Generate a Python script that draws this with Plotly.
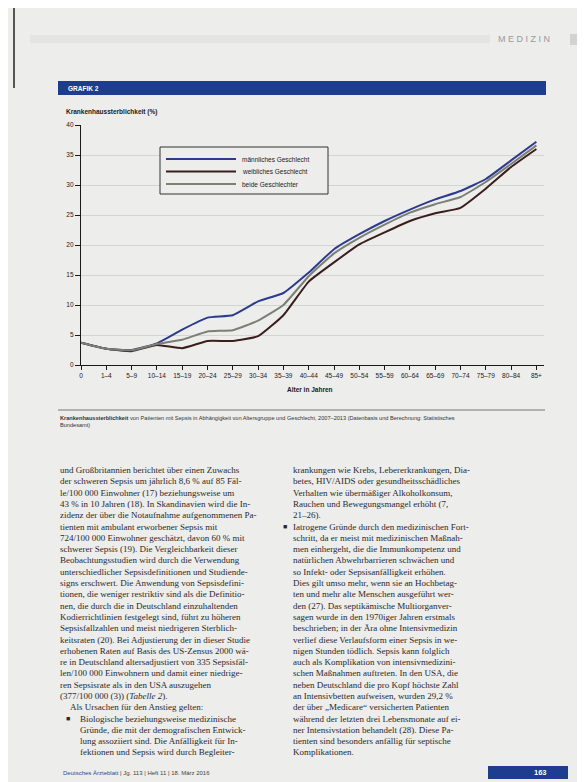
import plotly.graph_objects as go

# ---------------- data ----------------
age_groups = ["0", "1–4", "5–9", "10–14", "15–19", "20–24", "25–29", "30–34", "35–39",
              "40–44", "45–49", "50–54", "55–59", "60–64", "65–69", "70–74", "75–79",
              "80–84", "85+"]
male = [3.7, 2.7, 2.5, 3.6, 5.9, 7.9, 8.3, 10.6, 12.0, 15.4, 19.3, 21.8, 24.0, 25.9, 27.6, 29.0, 31.0, 34.1, 37.2]
female = [3.7, 2.7, 2.3, 3.35, 2.8, 4.0, 4.0, 4.8, 8.3, 13.9, 17.1, 20.1, 22.1, 24.0, 25.3, 26.2, 29.4, 33.0, 36.0]
both = [3.7, 2.7, 2.45, 3.5, 4.2, 5.6, 5.8, 7.4, 10.0, 14.8, 18.6, 21.2, 23.4, 25.4, 26.8, 28.0, 30.5, 33.5, 36.6]
series_names = ["männliches Geschlecht", "weibliches Geschlecht", "beide Geschlechter"]
y_ticks = [0, 5, 10, 15, 20, 25, 30, 35, 40]

left_col = [
    "und Großbritannien berichtet über einen Zuwachs",
    "der schweren Sepsis um jährlich 8,6 % auf 85 Fäl-",
    "le/100 000 Einwohner (17) beziehungsweise um",
    "43 % in 10 Jahren (18). In Skandinavien wird die In-",
    "zidenz der über die Notaufnahme aufgenommenen Pa-",
    "tienten mit ambulant erworbener Sepsis mit",
    "724/100 000 Einwohner geschätzt, davon 60 % mit",
    "schwerer Sepsis (19). Die Vergleichbarkeit dieser",
    "Beobachtungsstudien wird durch die Verwendung",
    "unterschiedlicher Sepsisdefinitionen und Studiende-",
    "signs erschwert. Die Anwendung von Sepsisdefini-",
    "tionen, die weniger restriktiv sind als die Definitio-",
    "nen, die durch die in Deutschland einzuhaltenden",
    "Kodierrichtlinien festgelegt sind, führt zu höheren",
    "Sepsisfallzahlen und meist niedrigeren Sterblich-",
    "keitsraten (20). Bei Adjustierung der in dieser Studie",
    "erhobenen Raten auf Basis des US-Zensus 2000 wä-",
    "re in Deutschland altersadjustiert von 335 Sepsisfäl-",
    "len/100 000 Einwohnern und damit einer niedrige-",
    "ren Sepsisrate als in den USA auszugehen",
    "(377/100 000 (3)) (<i>Tabelle 2</i>).",
    "Als Ursachen für den Anstieg gelten:",
    "Biologische beziehungsweise medizinische",
    "Gründe, die mit der demografischen Entwick-",
    "lung assoziiert sind. Die Anfälligkeit für In-",
    "fektionen und Sepsis wird durch Begleiter-",
]
right_col = [
    "krankungen wie Krebs, Lebererkrankungen, Dia-",
    "betes, HIV/AIDS oder gesundheitsschädliches",
    "Verhalten wie übermäßiger Alkoholkonsum,",
    "Rauchen und Bewegungsmangel erhöht (7,",
    "21–26).",
    "Iatrogene Gründe durch den medizinischen Fort-",
    "schritt, da er meist mit medizinischen Maßnah-",
    "men einhergeht, die die Immunkompetenz und",
    "natürlichen Abwehrbarrieren schwächen und",
    "so Infekt- oder Sepsisanfälligkeit erhöhen.",
    "Dies gilt umso mehr, wenn sie an Hochbetag-",
    "ten und mehr alte Menschen ausgeführt wer-",
    "den (27). Das septikämische Multiorganver-",
    "sagen wurde in den 1970iger Jahren erstmals",
    "beschrieben; in der Ära ohne Intensivmedizin",
    "verlief diese Verlaufsform einer Sepsis in we-",
    "nigen Stunden tödlich. Sepsis kann folglich",
    "auch als Komplikation von intensivmedizini-",
    "schen Maßnahmen auftreten. In den USA, die",
    "neben Deutschland die pro Kopf höchste Zahl",
    "an Intensivbetten aufweisen, wurden 29,2 %",
    "der über „Medicare“ versicherten Patienten",
    "während der letzten drei Lebensmonate auf ei-",
    "ner Intensivstation behandelt (28). Diese Pa-",
    "tienten sind besonders anfällig für septische",
    "Komplikationen.",
]

# ---------------- layout geometry ----------------
W, H = 585, 782
ML, MR, MT, MB = 73, 49, 117, 425
PW, PH = W - ML - MR, H - MT - MB


def px(x):
    return (x - ML) / PW


def py(y):
    return (H - MB - y) / PH


BG = "#ededec"
colors = ["#2c3b8e", "#3a1e1c", "#7b7f74"]
SANS = "Liberation Sans, Arial, sans-serif"
SERIF = "Liberation Serif, Times New Roman, serif"

fig = go.Figure()
for name, vals, col in zip(series_names, [male, female, both], colors):
    fig.add_trace(go.Scatter(
        x=age_groups, y=vals, mode="lines", name=name,
        line=dict(color=col, width=2, shape="spline", smoothing=0.4),
        showlegend=False, hoverinfo="skip"))

shapes = []
annotations = []

# page decoration
shapes.append(dict(type="rect", xref="paper", yref="paper", x0=px(22), x1=px(482), y0=py(27), y1=py(35),
                   fillcolor="#e4e4e3", line=dict(width=0), layer="below"))
shapes.append(dict(type="rect", xref="paper", yref="paper", x0=px(562), x1=px(585), y0=py(26), y1=py(37),
                   fillcolor="#d2d2d2", line=dict(width=0), layer="below"))
shapes.append(dict(type="line", xref="paper", yref="paper", x0=px(6), x1=px(6), y0=py(0), y1=py(80),
                   line=dict(color="#555555", width=2)))
annotations.append(dict(text="M E D I Z I N", x=px(488), y=py(31), xref="paper", yref="paper",
                        xanchor="left", yanchor="middle", showarrow=False,
                        font=dict(family=SANS, size=9, color="#9a9a9a")))

# banner
shapes.append(dict(type="rect", xref="paper", yref="paper", x0=px(50), x1=px(538), y0=py(73), y1=py(87),
                   fillcolor="#1f3d8f", line=dict(width=0)))
annotations.append(dict(text="<b>GRAFIK 2</b>", x=px(58), y=py(80), xref="paper", yref="paper",
                        xanchor="left", yanchor="middle", showarrow=False,
                        font=dict(family=SANS, size=6.5, color="white")))

# y axis title
annotations.append(dict(text="<b>Krankenhaussterblichkeit (%)</b>", x=px(56), y=py(104), xref="paper", yref="paper",
                        xanchor="left", yanchor="middle", showarrow=False,
                        font=dict(family=SANS, size=6.5, color="#1a1a1a")))
# x axis title
annotations.append(dict(text="<b>Alter in Jahren</b>", x=px(302), y=py(381), xref="paper", yref="paper",
                        xanchor="center", yanchor="middle", showarrow=False,
                        font=dict(family=SANS, size=6.5, color="#1a1a1a")))

# custom legend
shapes.append(dict(type="rect", xref="paper", yref="paper", x0=px(152), x1=px(320), y0=py(139), y1=py(186),
                   fillcolor=BG, line=dict(color="#333333", width=1)))
for i, (name, col) in enumerate(zip(series_names, colors)):
    yy = 151 + i * 12.5
    shapes.append(dict(type="line", xref="paper", yref="paper", x0=px(158), x1=px(228), y0=py(yy), y1=py(yy),
                       line=dict(color=col, width=2)))
    annotations.append(dict(text=name, x=px(232), y=py(yy), xref="paper", yref="paper",
                            xanchor="left", yanchor="middle", showarrow=False,
                            font=dict(family=SANS, size=6.5, color="#222222")))

# caption
shapes.append(dict(type="line", xref="paper", yref="paper", x0=px(50), x1=px(537), y0=py(402), y1=py(402),
                   line=dict(color="#777777", width=1)))
annotations.append(dict(
    text="<b>Krankenhaussterblichkeit</b> von Patienten mit Sepsis in Abhängigkeit von Altersgruppe und Geschlecht, 2007–2013 (Datenbasis und Berechnung: Statistisches",
    x=px(50), y=py(410), xref="paper", yref="paper", xanchor="left", yanchor="middle", showarrow=False,
    font=dict(family=SANS, size=5.6, color="#333333")))
annotations.append(dict(text="Bundesamt)", x=px(50), y=py(417), xref="paper", yref="paper",
                        xanchor="left", yanchor="middle", showarrow=False,
                        font=dict(family=SANS, size=5.6, color="#333333")))

# body text
LS = 11.3
for i, line in enumerate(left_col):
    x0 = 50
    if i == 21:
        x0 = 60
    if i >= 22:
        x0 = 70
    annotations.append(dict(text=line, x=px(x0), y=py(462 + i * LS), xref="paper", yref="paper",
                            xanchor="left", yanchor="middle", showarrow=False,
                            font=dict(family=SERIF, size=9, color="#2a2a2a")))
annotations.append(dict(text="■", x=px(56), y=py(462 + 22 * LS), xref="paper", yref="paper",
                        xanchor="left", yanchor="middle", showarrow=False,
                        font=dict(family=SANS, size=7, color="#2a2a2a")))
for i, line in enumerate(right_col):
    x0 = 283
    annotations.append(dict(text=line, x=px(x0), y=py(462 + i * LS), xref="paper", yref="paper",
                            xanchor="left", yanchor="middle", showarrow=False,
                            font=dict(family=SERIF, size=9, color="#2a2a2a")))
annotations.append(dict(text="■", x=px(273), y=py(462 + 5 * LS), xref="paper", yref="paper",
                        xanchor="left", yanchor="middle", showarrow=False,
                        font=dict(family=SANS, size=7, color="#2a2a2a")))

# footer
annotations.append(dict(
    text="<span style='color:#2b4a9a'>Deutsches Ärzteblatt</span> | Jg. 113 | Heft 11 | 18. März 2016",
    x=px(53), y=py(765), xref="paper", yref="paper", xanchor="left", yanchor="middle", showarrow=False,
    font=dict(family=SANS, size=6, color="#444444")))
shapes.append(dict(type="rect", xref="paper", yref="paper", x0=px(480), x1=px(560), y0=py(758), y1=py(771),
                   fillcolor="#1f3d8f", line=dict(width=0)))
annotations.append(dict(text="<b>163</b>", x=px(532), y=py(764.5), xref="paper", yref="paper",
                        xanchor="center", yanchor="middle", showarrow=False,
                        font=dict(family=SANS, size=7.5, color="white")))

fig.update_layout(
    width=W, height=H,
    margin=dict(l=ML, r=MR, t=MT, b=MB, pad=0),
    paper_bgcolor=BG, plot_bgcolor=BG,
    shapes=shapes, annotations=annotations,
    showlegend=False,
    xaxis=dict(type="category", range=[0, 18.3], showline=True, linecolor="#1a1a1a", linewidth=1.2,
               ticks="outside", ticklen=4, tickcolor="#1a1a1a", showgrid=False, zeroline=False,
               tickfont=dict(family=SANS, size=6.5, color="#222222"), tickangle=0, fixedrange=True),
    yaxis=dict(range=[0, 40], tickvals=y_ticks, showline=True, linecolor="#1a1a1a", linewidth=1.2,
               ticks="outside", ticklen=5, tickcolor="#1a1a1a", showgrid=True, gridcolor="#d4d4d2",
               gridwidth=1, zeroline=False,
               tickfont=dict(family=SANS, size=6.5, color="#222222"), fixedrange=True),
)

fig.write_html("out.html")
